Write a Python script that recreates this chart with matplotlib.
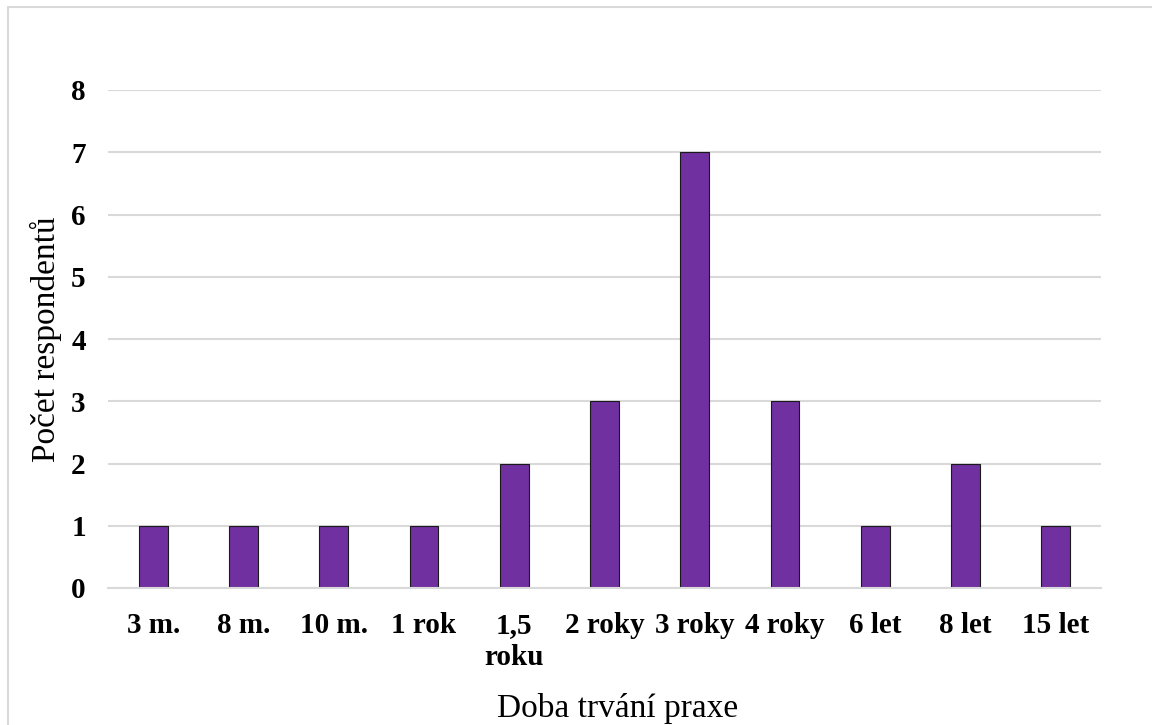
import matplotlib.pyplot as plt
from matplotlib.patches import Rectangle

categories = ['3 m.', '8 m.', '10 m.', '1 rok', '1,5\nroku', '2 roky',
              '3 roky', '4 roky', '6 let', '8 let', '15 let']
counts = [1, 1, 1, 1, 2, 3, 7, 3, 1, 2, 1]
y_ticks = [0, 1, 2, 3, 4, 5, 6, 7, 8]

plt.rcParams['font.family'] = ['Liberation Serif', 'DejaVu Serif']

W, H = 1152, 725
fig = plt.figure(figsize=(W / 100, H / 100), dpi=100)
ax = fig.add_axes([108 / W, 1 - 588 / H, (1101 - 108) / W, (588 - 90) / H])

ax.set_axisbelow(True)
ax.grid(axis='y', color='#d9d9d9', linewidth=1.5)
x = range(len(categories))
ax.bar(x, counts, width=0.32, color='#7030a0', edgecolor='#1a1a1a', linewidth=0.8)

ax.set_xlim(-0.5, len(categories) - 0.5)
ax.set_ylim(0, 8)
ax.set_yticks(y_ticks)
ax.set_xticks(list(x))
ax.set_xticklabels(categories, fontsize=21, fontweight='bold', linespacing=1.25,
                   va='top')
ax.set_yticklabels([str(v) for v in y_ticks], fontsize=21, fontweight='bold')
ax.tick_params(axis='both', length=0)
ax.tick_params(axis='y', pad=16)
ax.tick_params(axis='x', pad=17)

for side in ['top', 'right', 'left']:
    ax.spines[side].set_visible(False)
ax.spines['bottom'].set_color('#d9d9d9')
ax.spines['bottom'].set_linewidth(1.5)

ax.set_xlabel('Doba trvání praxe', fontsize=24, va='center')
ax.set_ylabel('Počet respondentů', fontsize=24, va='center')
ax.xaxis.set_label_coords((618 - 108) / (1101 - 108), -(709 - 588) / (588 - 90))
ax.yaxis.set_label_coords(-(108 - 46) / (1101 - 108), 0.5)

# light frame around the whole chart area
fig.patches.append(Rectangle((8 / W, -0.1), 1.2, 1 - 7 / H + 0.1,
                             transform=fig.transFigure, fill=False,
                             edgecolor='#d9d9d9', linewidth=1.5))

fig.savefig('out.png', dpi=100)
